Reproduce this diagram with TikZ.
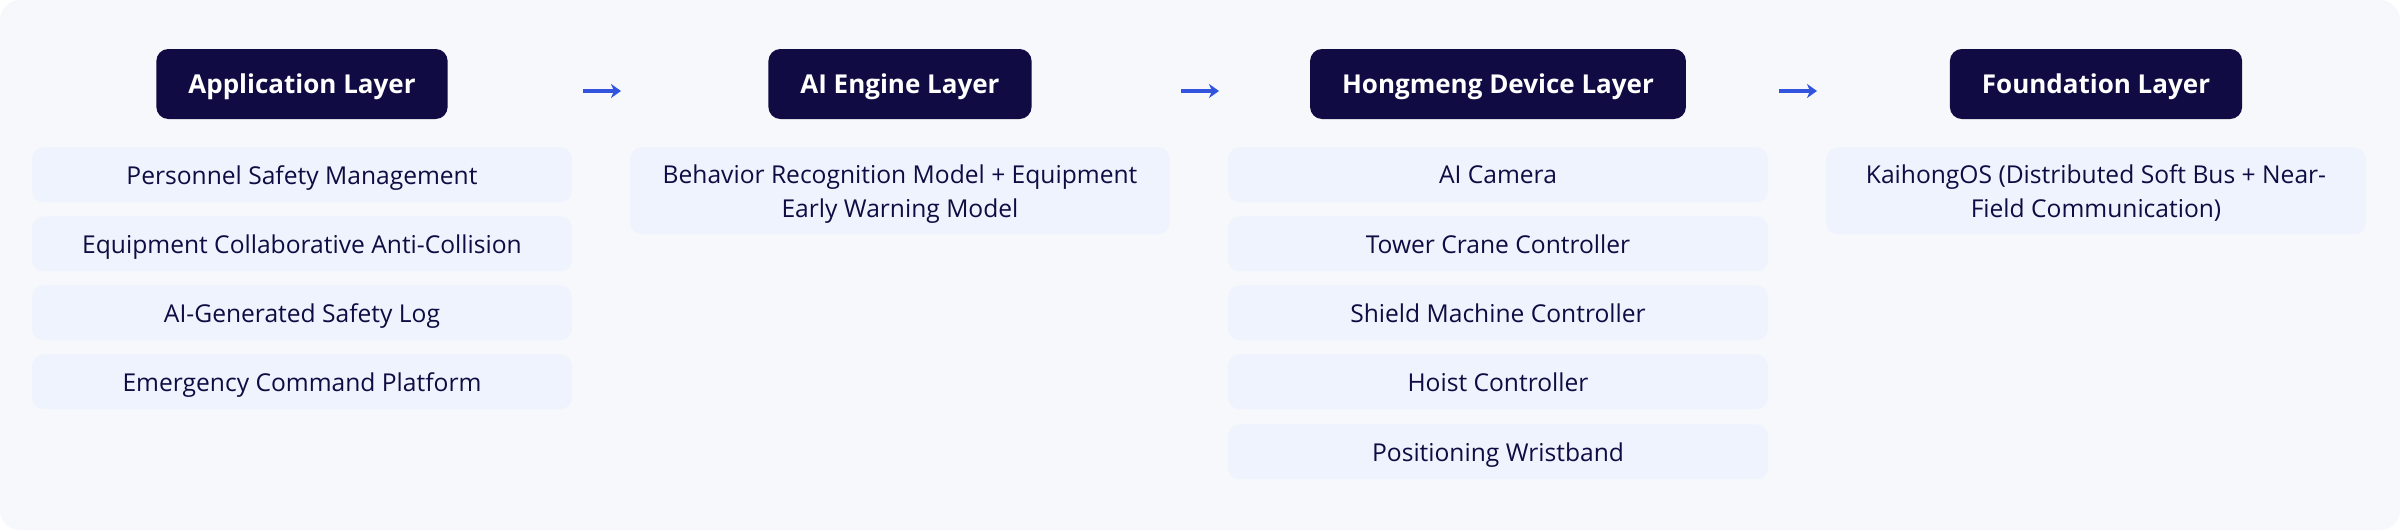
\documentclass[tikz,border=0pt]{standalone}
\usepackage{fontspec}
\setmainfont{Open Sans}
\usetikzlibrary{arrows.meta,positioning}

\definecolor{layernavy}{HTML}{100B42}
\definecolor{itemblue}{HTML}{EEF3FD}
\definecolor{panelgray}{HTML}{F7F8FB}
\definecolor{arrowblue}{HTML}{3355DD}

\begin{document}
\begin{tikzpicture}
  [
    x = 0.5pt, y = -0.5pt,
    layer head/.style = {fill=layernavy,text=white,font=\bfseries\fontsize{13}{15}\selectfont,
                         rounded corners=6pt,minimum height=35pt,inner xsep=16pt,text depth=0pt},
    layer item/.style = {fill=itemblue,text=layernavy,font=\fontsize{12.3}{17}\selectfont,
                         rounded corners=6pt,minimum width=270pt,minimum height=27.5pt,
                         inner sep=0pt,text depth=0pt,align=center,anchor=north},
    tall item/.style  = {layer item,minimum height=43.5pt},
    flow arrow/.style = {draw=arrowblue,line width=1.6pt,-{Stealth[length=5pt,width=7pt,inset=1.5pt]}},
    > = Stealth,
  ]

  \fill[white] (0,0) rectangle (2400,530);
  \useasboundingbox (0,0) rectangle (2400,530);
  \fill[panelgray,rounded corners=10pt] (0,0) rectangle (2400,530);

  \node[layer head] (app)  at (302,84)  {Application Layer};
  \node[layer head] (ai)   at (900,84)  {AI Engine Layer};
  \node[layer head] (dev)  at (1498,84) {Hongmeng Device Layer};
  \node[layer head] (base) at (2096,84) {Foundation Layer};

  \coordinate (flow1 tail) at (583,91);  \coordinate (flow1 tip) at (621,91);
  \coordinate (flow2 tail) at (1181,91); \coordinate (flow2 tip) at (1219,91);
  \coordinate (flow3 tail) at (1779,91); \coordinate (flow3 tip) at (1817,91);
  \draw[flow arrow] (flow1 tail) -- (flow1 tip);
  \draw[flow arrow] (flow2 tail) -- (flow2 tip);
  \draw[flow arrow] (flow3 tail) -- (flow3 tip);

  \node[layer item] (app1) at (302,147) {Personnel Safety Management};
  \node[layer item] (app2) at (302,216) {Equipment Collaborative Anti-Collision};
  \node[layer item] (app3) at (302,285) {AI-Generated Safety Log};
  \node[layer item] (app4) at (302,354) {Emergency Command Platform};

  \node[tall item] (ai1) at (900,147) {Behavior Recognition Model + Equipment\\Early Warning Model};

  \node[layer item] (dev1) at (1498,147) {AI Camera};
  \node[layer item] (dev2) at (1498,216) {Tower Crane Controller};
  \node[layer item] (dev3) at (1498,285) {Shield Machine Controller};
  \node[layer item] (dev4) at (1498,354) {Hoist Controller};
  \node[layer item] (dev5) at (1498,424) {Positioning Wristband};

  \node[tall item] (base1) at (2096,147) {KaihongOS (Distributed Soft Bus + Near-\\Field Communication)};

\end{tikzpicture}
\end{document}
